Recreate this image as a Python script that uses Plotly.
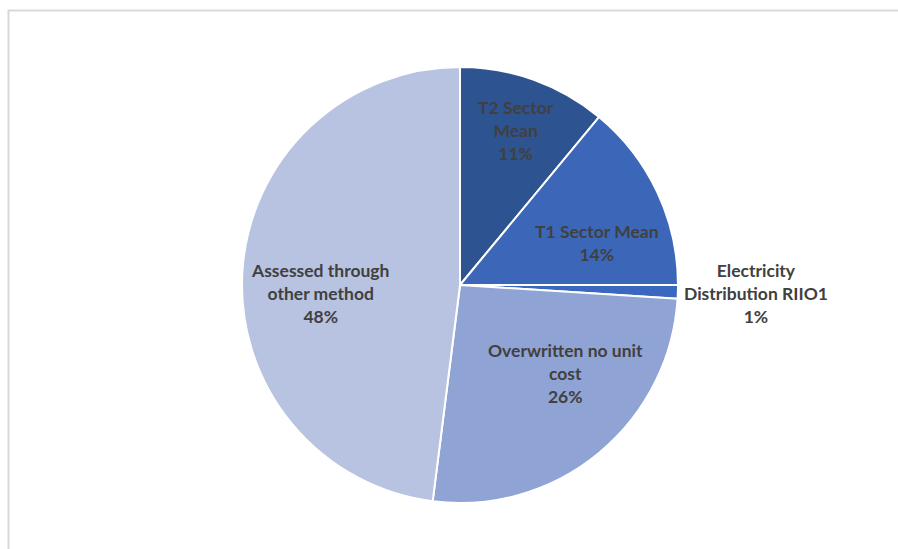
import plotly.graph_objects as go

# Share of cost assessment by method
categories = [
    "T2 Sector Mean",
    "T1 Sector Mean",
    "Electricity Distribution RIIO1",
    "Overwritten no unit cost",
    "Assessed through other method",
]
shares = [11, 14, 1, 26, 48]

# Display wrapping of each category name
wrapped = {
    "T2 Sector Mean": "T2 Sector<br>Mean",
    "T1 Sector Mean": "T1 Sector Mean",
    "Electricity Distribution RIIO1": "Electricity<br>Distribution RIIO1",
    "Overwritten no unit cost": "Overwritten no unit<br>cost",
    "Assessed through other method": "Assessed through<br>other method",
}

# Styling
slice_colors = ["#2E5391", "#3C67B8", "#3A68C0", "#8FA3D4", "#B8C3E1"]
W, H = 898, 549
CX, CY, R = 460, 285, 218  # pie centre and radius in pixels
# label anchor offsets from the pie centre, in units of the radius
label_offsets = [
    (0.257, -0.711),
    (0.628, -0.193),
    (1.358, 0.037),
    (0.486, 0.404),
    (-0.642, 0.037),
]

fig = go.Figure(
    go.Pie(
        labels=categories,
        values=shares,
        sort=False,
        direction="clockwise",
        rotation=0,
        marker=dict(colors=slice_colors, line=dict(color="white", width=2)),
        textinfo="none",
        hoverinfo="label+percent",
        showlegend=False,
        domain=dict(
            x=[(CX - R) / W, (CX + R) / W],
            y=[1 - (CY + R) / H, 1 - (CY - R) / H],
        ),
    )
)

annotations = []
for name, val, (ox, oy) in zip(categories, shares, label_offsets):
    annotations.append(
        dict(
            x=(CX + ox * R) / W,
            y=1 - (CY + oy * R) / H,
            xref="paper",
            yref="paper",
            text=f"<b>{wrapped[name]}<br>{val}%</b>",
            showarrow=False,
            xanchor="center",
            yanchor="middle",
            align="center",
            font=dict(family="Lato", size=17.5, color="#404040"),
        )
    )

fig.update_layout(
    width=W,
    height=H,
    autosize=False,
    margin=dict(l=0, r=0, t=0, b=0),
    paper_bgcolor="white",
    plot_bgcolor="white",
    annotations=annotations,
    shapes=[
        dict(
            type="rect",
            xref="paper",
            yref="paper",
            x0=8.5 / W,
            x1=1.02,
            y0=-0.02,
            y1=1 - 10.5 / H,
            line=dict(color="#D9D9D9", width=2),
            fillcolor="rgba(0,0,0,0)",
            layer="below",
        )
    ],
)

fig.write_html("out.html")
